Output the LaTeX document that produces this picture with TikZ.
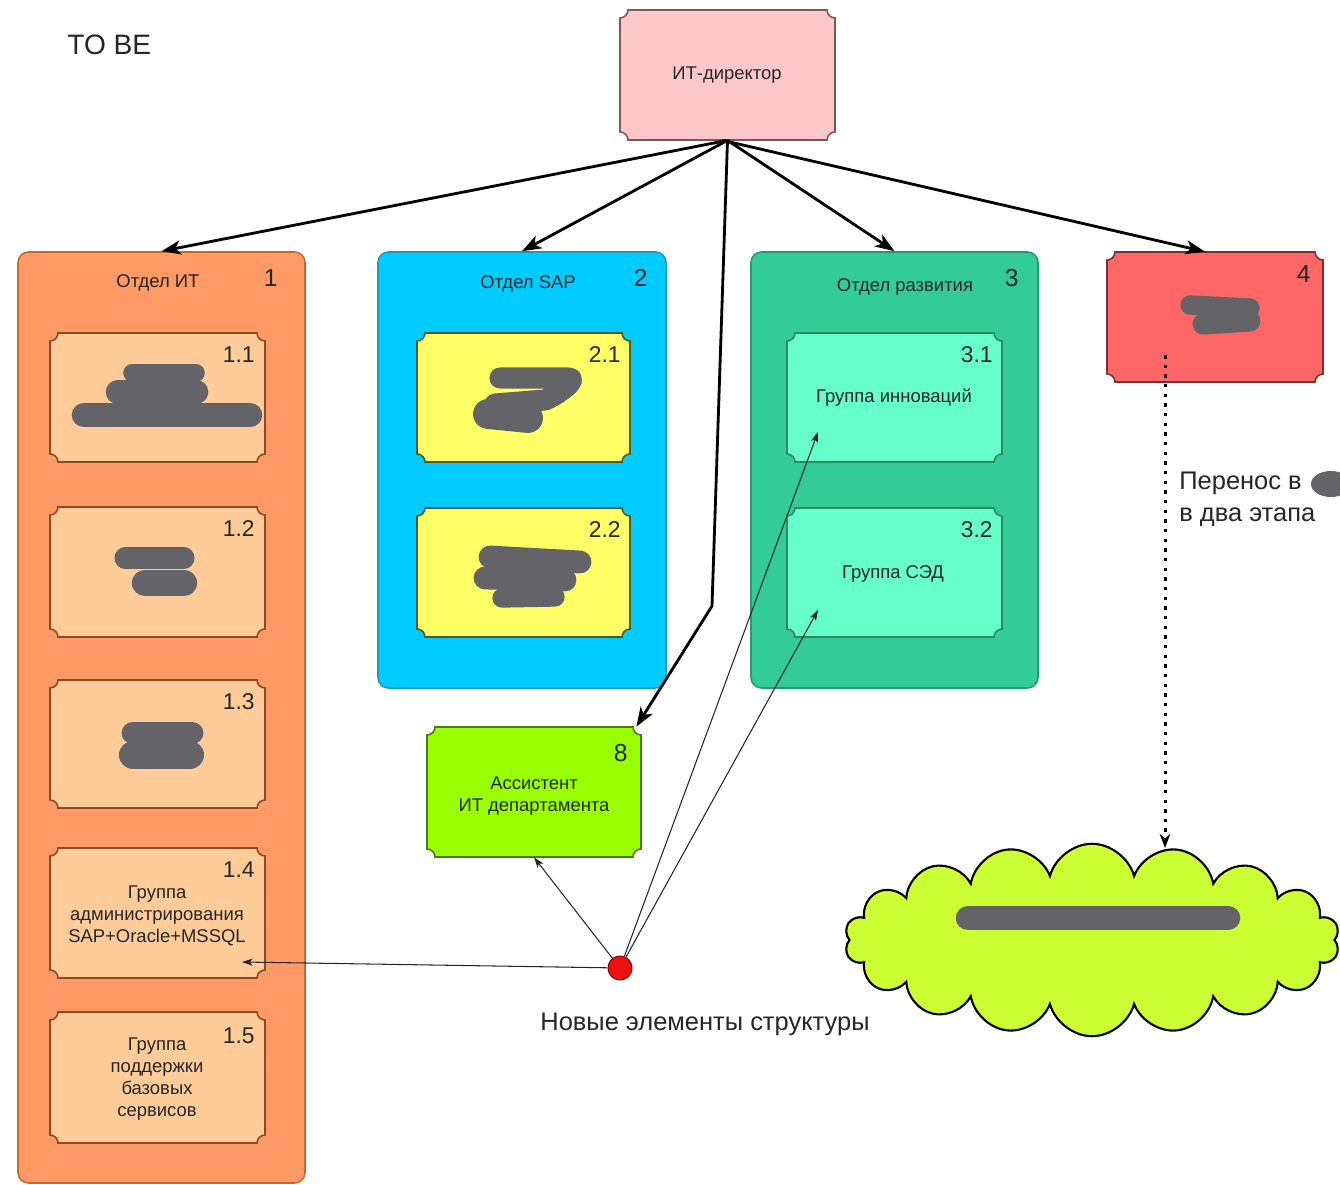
\documentclass[tikz,border=0pt]{standalone}
\usepackage{fontspec}
\setmainfont{Liberation Sans}
\usetikzlibrary{arrows.meta,shapes.symbols,fit,calc}

\definecolor{dirfill}{HTML}{FFC8C8}
\definecolor{dirline}{HTML}{7A5858}
\definecolor{d1fill}{HTML}{FF9966}
\definecolor{d1line}{HTML}{C8662E}
\definecolor{s1fill}{HTML}{FFCC99}
\definecolor{s1line}{HTML}{8A4A22}
\definecolor{d2fill}{HTML}{00CCFF}
\definecolor{d2line}{HTML}{1A9AC0}
\definecolor{s2fill}{HTML}{FFFF66}
\definecolor{s2line}{HTML}{4A5A2A}
\definecolor{d3fill}{HTML}{33CC99}
\definecolor{d3line}{HTML}{249A72}
\definecolor{s3fill}{HTML}{66FFCC}
\definecolor{s3line}{HTML}{2A8A60}
\definecolor{b4fill}{HTML}{FF6666}
\definecolor{b4line}{HTML}{7A3030}
\definecolor{b8fill}{HTML}{99FF00}
\definecolor{b8line}{HTML}{4A7A10}
\definecolor{cloudfill}{HTML}{CCFF33}
\definecolor{inkgrey}{HTML}{646468}
\definecolor{dotred}{HTML}{EE1111}
\definecolor{txt}{HTML}{262626}

% radius of the scooped corners
\def\sr{8}
% rectangle with concave (scooped) corners: x1 y1 x2 y2 fill border
\newcommand\scoopbox[6]{%
  \filldraw[fill=#5,draw=#6,line width=0.9pt]
    (#1+\sr,#2) -- (#3-\sr,#2) arc[start angle=180,end angle=90,radius=\sr]
    -- (#3,#4-\sr) arc[start angle=270,end angle=180,radius=\sr]
    -- (#1+\sr,#4) arc[start angle=0,end angle=-90,radius=\sr]
    -- (#1,#2+\sr) arc[start angle=90,end angle=0,radius=\sr] -- cycle;}

\begin{document}
\begin{tikzpicture}[x=0.02cm,y=-0.02cm,
  area/.style={inner sep=0pt},
  boxtext/.style={font=\fontsize{10.5}{12.6}\selectfont, text=txt, align=center, inner sep=0pt},
  numtext/.style={font=\fontsize{13}{15}\selectfont, text=txt, anchor=north east, inner sep=0pt},
  dept/.style={rounded corners=6pt, line width=0.9pt, inner sep=0pt},
  mainarrow/.style={-{Stealth[length=11pt,width=8pt,inset=3pt]}, line width=1.6pt, black},
  thinarrow/.style={-{Stealth[length=6pt,width=4pt,inset=1.5pt]}, line width=0.6pt, black!85},
  dotarrow/.style={-{Stealth[length=8pt,width=6pt]}, line width=1.7pt, dash pattern=on 2pt off 3.5pt, black},
  blob/.style={draw=inkgrey, line width=#1, line cap=round, line join=round},
  blob/.default=12pt,
]
\fill[white] (0,0) rectangle (1340,1185);
\useasboundingbox (0,0) rectangle (1340,1185);

% title
\node[anchor=west, font=\fontsize{16}{19}\selectfont, text=txt, inner sep=0pt] (tobe) at (67,45) {TO BE};

% director
\scoopbox{620}{10}{835}{140}{dirfill}{dirline}
\node[area, fit={(620,10)(835,140)}] (dir) {};
\node[boxtext] (dirt) at (727,75) {ИТ-директор};

% departments
\node[dept, fill=d1fill, draw=d1line, fit={(18,252)(305,1183)}] (d1) {};
\node[dept, fill=d2fill, draw=d2line, fit={(378,252)(666,688)}] (d2) {};
\node[dept, fill=d3fill, draw=d3line, fit={(751,252)(1038,688)}] (d3) {};
\node[boxtext] (d1t) at (158,283) {Отдел ИТ};
\node[boxtext] (d2t) at (528,284) {Отдел SAP};
\node[boxtext] (d3t) at (905,287) {Отдел развития};
\node[numtext, font=\fontsize{14}{16}\selectfont] (d1n) at (278,269) {1};
\node[numtext, font=\fontsize{14}{16}\selectfont] (d2n) at (648,269) {2};
\node[numtext, font=\fontsize{14}{16}\selectfont] (d3n) at (1019,269) {3};

% department 1 groups
\scoopbox{50}{333}{265}{462}{s1fill}{s1line}
\node[area, fit={(50,333)(265,462)}] (g11) {};
\node[numtext] (g11n) at (255,346) {1.1};
\scoopbox{50}{507}{265}{637}{s1fill}{s1line}
\node[area, fit={(50,507)(265,637)}] (g12) {};
\node[numtext] (g12n) at (255,520) {1.2};
\scoopbox{50}{680}{265}{808}{s1fill}{s1line}
\node[area, fit={(50,680)(265,808)}] (g13) {};
\node[numtext] (g13n) at (255,693) {1.3};
\scoopbox{50}{848}{265}{978}{s1fill}{s1line}
\node[area, fit={(50,848)(265,978)}] (g14) {};
\node[boxtext] (g14t) at (157,916) {Группа\\администрирования\\SAP+Oracle+MSSQL};
\node[numtext] (g14n) at (255,861) {1.4};
\scoopbox{50}{1012}{265}{1143}{s1fill}{s1line}
\node[area, fit={(50,1012)(265,1143)}] (g15) {};
\node[boxtext] (g15t) at (157,1079) {Группа\\поддержки\\базовых\\сервисов};
\node[numtext] (g15n) at (255,1027) {1.5};

% department 2 groups
\scoopbox{417}{333}{630}{462}{s2fill}{s2line}
\node[area, fit={(417,333)(630,462)}] (g21) {};
\node[numtext] (g21n) at (621,346) {2.1};
\scoopbox{417}{508}{630}{637}{s2fill}{s2line}
\node[area, fit={(417,508)(630,637)}] (g22) {};
\node[numtext] (g22n) at (621,521) {2.2};

% department 3 groups
\scoopbox{787}{333}{1002}{462}{s3fill}{s3line}
\node[area, fit={(787,333)(1002,462)}] (g31) {};
\node[boxtext] (g31t) at (894,398) {Группа инноваций};
\node[numtext] (g31n) at (993,346) {3.1};
\scoopbox{787}{508}{1002}{637}{s3fill}{s3line}
\node[area, fit={(787,508)(1002,637)}] (g32) {};
\node[boxtext] (g32t) at (893,574) {Группа СЭД};
\node[numtext] (g32n) at (993,521) {3.2};

% unit 4
\scoopbox{1107}{252}{1323}{382}{b4fill}{b4line}
\node[area, fit={(1107,252)(1323,382)}] (b4) {};
\node[numtext, font=\fontsize{14}{16}\selectfont] (b4n) at (1311,265) {4};

% assistant
\scoopbox{427}{727}{641}{857}{b8fill}{b8line}
\node[area, fit={(427,727)(641,857)}] (b8) {};
\node[boxtext] (b8t) at (534,796) {Ассистент\\ИТ департамента};
\node[numtext, font=\fontsize{14}{16}\selectfont] (b8n) at (628,744) {8};

% target cloud
\node[cloud, cloud puffs=18, cloud puff arc=150, aspect=2.5, draw=black, line width=1.2pt,
      fill=cloudfill, minimum width=9.9cm, minimum height=3.85cm, inner sep=0pt] (cl) at (1092,940) {};

% covered-over names
\draw[blob=14pt] (84,415) -- (250,415);
\draw[blob=14pt] (118,392) -- (196,392);
\draw[blob=10pt] (132,373) -- (196,373);
\draw[blob=12pt] (125,558) -- (184,558);
\draw[blob=15pt] (145,583) -- (184,583);
\draw[blob=13pt] (133,733) -- (192,733);
\draw[blob=16pt] (133,755) -- (190,755);
\draw[blob=12pt] (500,378) -- (568,378) to[out=0,in=20] (545,400) -- (495,404);
\draw[blob=17pt] (488,414) -- (528,418);
\draw[blob=13pt] (490,557) -- (580,562);
\draw[blob=13pt] (485,578) -- (565,580);
\draw[blob=11pt] (502,598) -- (555,597);
\draw[blob=11pt] (1190,305) -- (1250,308);
\draw[blob=12pt] (1203,324) -- (1250,321);
\draw[blob=14pt] (968,918) -- (1228,918);
\fill[inkgrey] (1331,484) ellipse[x radius=20, y radius=13];

% reporting lines
\coordinate (bend8) at (712,606);
\draw[mainarrow] (dir.south) -- (d1.north);
\draw[mainarrow] (dir.south) -- (d2.north);
\draw[mainarrow] (dir.south) -- (d3.north);
\draw[mainarrow] ([xshift=-0.1cm]dir.south) -- ([xshift=-0.2cm]b4.north);
\draw[mainarrow] (dir.south) -- (bend8) -- ([xshift=-0.1cm]b8.north east);

% transfer of unit 4
\coordinate (m4) at (1165,355);
\coordinate (mc) at (1165,848);
\draw[dotarrow] (m4) -- (mc);
\node[anchor=west, align=left, font=\fontsize{14.5}{18}\selectfont, text=txt, inner sep=0pt] (movelbl) at (1179,499) {Перенос в\\в два этапа};

% new elements marker
\node[circle, fill=dotred, draw=red!55!black, line width=0.6pt, minimum size=0.48cm, inner sep=0pt] (nd) at (620,968) {};
\node[font=\fontsize{14.5}{17}\selectfont, text=txt, inner sep=0pt] (newlbl) at (705,1024) {Новые элементы структуры};
\coordinate (c14) at (242,962);
\coordinate (c31) at (818,432);
\coordinate (c32) at (818,610);
\draw[thinarrow] (nd) -- (c14);
\draw[thinarrow] (nd) -- (b8.south);
\draw[thinarrow] (nd) -- (c31);
\draw[thinarrow] (nd) -- (c32);
\end{tikzpicture}
\end{document}
